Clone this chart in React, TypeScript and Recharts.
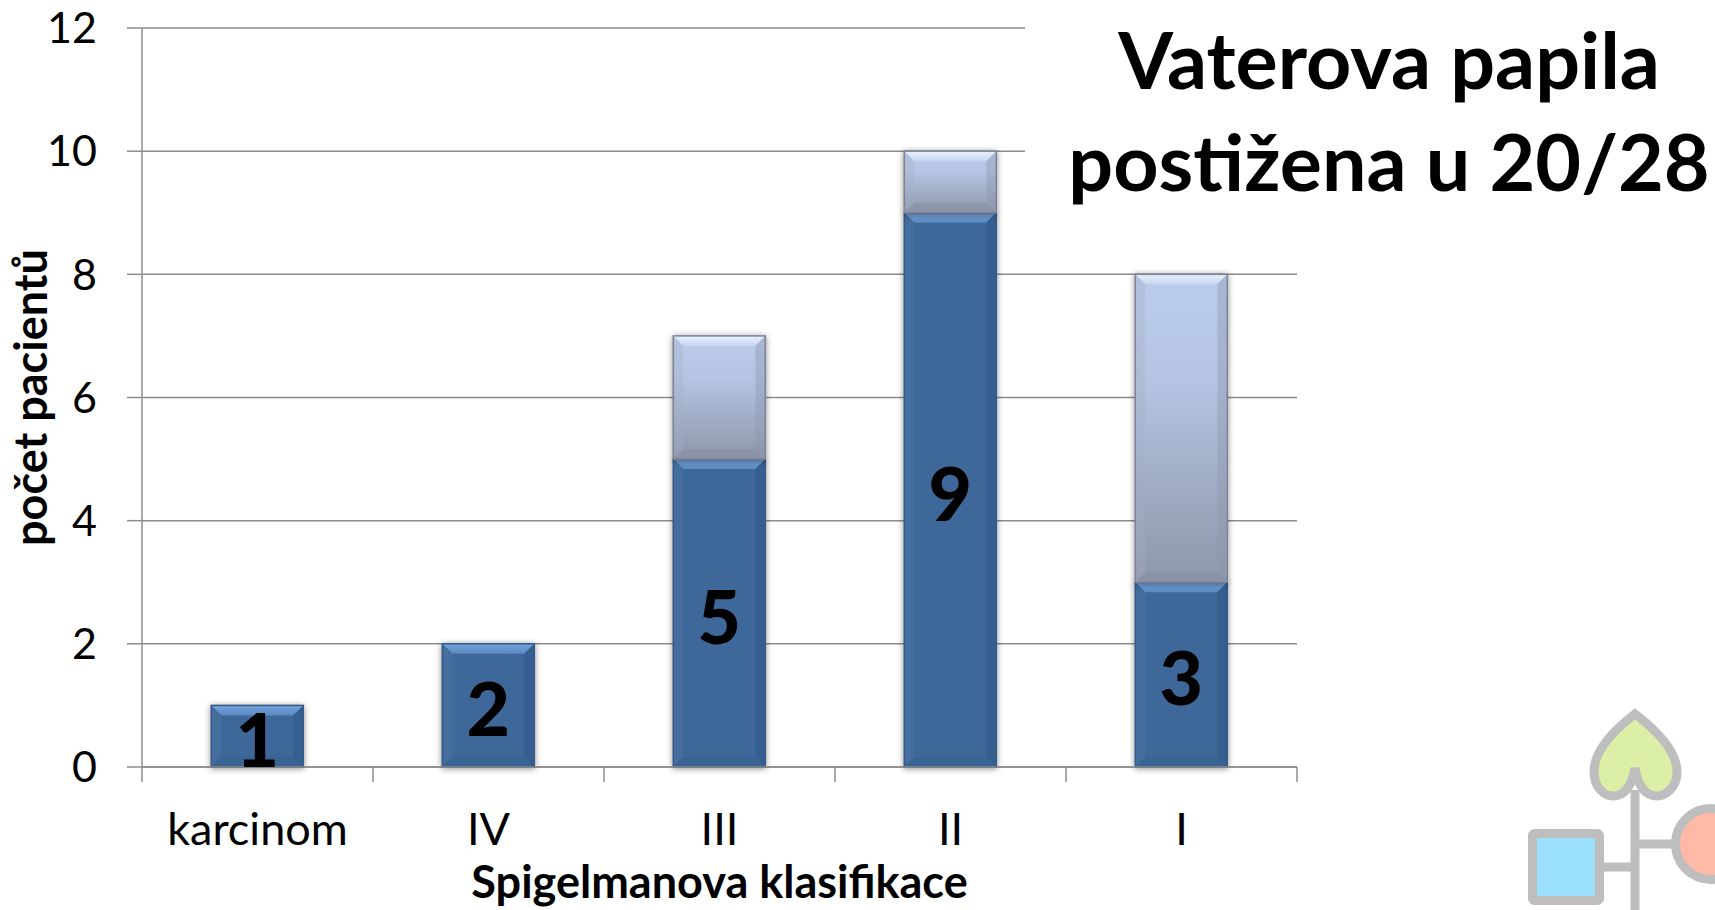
import React from 'react';
import { BarChart, Bar, XAxis, YAxis, CartesianGrid, LabelList } from 'recharts';

const categories = ['karcinom', 'IV', 'III', 'II', 'I'];
const affected = [1, 2, 5, 9, 3];
const others = [0, 0, 2, 1, 5];
const yTicks = [0, 2, 4, 6, 8, 10, 12];
const boundaryTicks = [0, 1, 2, 3, 4, 5];

const data = categories.map((name, i) => ({ name, edge: boundaryTicks[i], affected: affected[i], others: others[i] }));

const FONT = 'Lato, Carlito, sans-serif';
const AXIS = '#8c8c8c';

const BevelBar = (props: any) => {
    const { x, y, width, height, tone } = props;
    if (!height || height <= 0) return null;
    const b = Math.min(10, height / 2);
    const r = x + width;
    const t = y + height;
    const dark = tone === 'dark';
    return (
        <g style={{ filter: 'drop-shadow(0 1px 3px rgba(0,0,0,0.45))' }}>
            <rect x={x} y={y} width={width} height={height} fill={dark ? '#3d6899' : 'url(#lightBody)'} />
            <polygon points={`${x},${y} ${r},${y} ${r - b},${y + b} ${x + b},${y + b}`} fill={dark ? 'url(#darkTop)' : 'url(#lightTop)'} />
            <polygon points={`${x},${y} ${x + b},${y + b} ${x + b},${t - b} ${x},${t}`} fill={dark ? '#46709f' : '#a3aec6'} fillOpacity={dark ? 0.7 : 0.35} />
            <polygon points={`${r},${y} ${r - b},${y + b} ${r - b},${t - b} ${r},${t}`} fill={dark ? '#345c8c' : '#8d96ad'} fillOpacity={dark ? 0.8 : 0.4} />
            <polygon points={`${x},${t} ${x + b},${t - b} ${r - b},${t - b} ${r},${t}`} fill={dark ? '#386291' : '#868c9d'} fillOpacity={dark ? 0.8 : 0.45} />
            <rect x={x} y={y} width={width} height={height} fill="none" stroke={dark ? '#34598a' : '#7d8499'} strokeWidth={1.5} />
        </g>
    );
};

const Logo = () => (
    <svg width={1715} height={910} style={{ position: 'absolute', left: 0, top: 0 }}>
        <g stroke="#bebebe" strokeWidth={9} strokeLinejoin="round">
            <line x1={1635} y1={790} x2={1635} y2={910} />
            <line x1={1600} y1={867} x2={1635} y2={867} />
            <line x1={1635} y1={844} x2={1675} y2={844} />
            <path
                d="M1635 714 C1660 733 1677 752 1677 772 C1677 788 1665 796 1657 796 C1645 796 1638 785 1635 768 C1632 785 1625 796 1613 796 C1605 796 1594 788 1594 772 C1594 752 1610 733 1635 714 Z"
                fill="#dcefa6"
                strokeLinejoin="miter"
            />
            <rect x={1532.5} y={833.5} width={67} height={67} rx={2} fill="#9be0ff" />
            <circle cx={1711} cy={844} r={35.5} fill="#ffb9a6" />
        </g>
    </svg>
);

const App = () => {
    return (
        <div style={{ position: 'absolute', left: 0, top: 0, width: 1715, height: 910, background: '#fff', overflow: 'hidden', fontFamily: FONT }}>
            <BarChart
                width={1715}
                height={910}
                data={data}
                barCategoryGap="30%"
                margin={{ top: 28, right: 418, left: 0, bottom: 0 }}
            >
                <defs>
                    <linearGradient id="lightBody" x1="0" y1="0" x2="0" y2="1">
                        <stop offset="0" stopColor="#bccdec" />
                        <stop offset="0.35" stopColor="#b4c4e2" />
                        <stop offset="1" stopColor="#8e96aa" />
                    </linearGradient>
                    <linearGradient id="lightTop" x1="0" y1="0" x2="0" y2="1">
                        <stop offset="0" stopColor="#e9f0fc" />
                        <stop offset="1" stopColor="#c6d5ef" />
                    </linearGradient>
                    <linearGradient id="darkTop" x1="0" y1="0" x2="0" y2="1">
                        <stop offset="0" stopColor="#77a4dc" />
                        <stop offset="1" stopColor="#5a8ac2" />
                    </linearGradient>
                </defs>
                <CartesianGrid vertical={false} stroke={AXIS} strokeWidth={1.5} />
                <XAxis
                    xAxisId="bounds"
                    dataKey="edge"
                    type="number"
                    domain={[0, 5]}
                    allowDataOverflow
                    ticks={boundaryTicks}
                    interval={0}
                    height={1}
                    tickFormatter={() => ''}
                    tickSize={15}
                    axisLine={{ stroke: AXIS, strokeWidth: 1.5 }}
                    tickLine={{ stroke: AXIS, strokeWidth: 1.5 }}
                />
                <XAxis
                    xAxisId="cat"
                    dataKey="name"
                    height={142}
                    axisLine={false}
                    tickLine={false}
                    tickSize={0}
                    tickMargin={45}
                    tick={{ fontSize: 45, fill: '#000', fontFamily: FONT }}
                    label={{ value: 'Spigelmanova klasifikace', position: 'insideBottom', offset: 12, fontSize: 45, fontWeight: 700, fill: '#000', fontFamily: FONT }}
                />
                <YAxis
                    width={142}
                    domain={[0, 12]}
                    ticks={yTicks}
                    interval={0}
                    tickSize={15}
                    tickMargin={30}
                    axisLine={{ stroke: AXIS, strokeWidth: 1.5 }}
                    tickLine={{ stroke: AXIS, strokeWidth: 1.5 }}
                    tick={{ fontSize: 43, fill: '#000', fontFamily: FONT }}
                    label={{ value: 'počet pacientů', angle: -90, position: 'insideLeft', offset: 0, dx: 31, fontSize: 45, fontWeight: 700, fill: '#000', fontFamily: FONT, style: { textAnchor: 'middle' } }}
                />
                <Bar
                    xAxisId="cat"
                    dataKey="affected"
                    stackId="a"
                    isAnimationActive={false}
                    shape={(p: any) => <BevelBar {...p} tone="dark" />}
                >
                    <LabelList dataKey="affected" position="center" dy={4} fontSize={75} fontWeight={900} fill="#000" fontFamily={FONT} />
                </Bar>
                <Bar
                    xAxisId="cat"
                    dataKey="others"
                    stackId="a"
                    isAnimationActive={false}
                    shape={(p: any) => <BevelBar {...p} tone="light" />}
                />
            </BarChart>
            <div
                style={{
                    position: 'absolute',
                    left: 1025,
                    top: 0,
                    width: 690,
                    height: 230,
                    background: '#fff',
                }}
            />
            <div
                style={{
                    position: 'absolute',
                    left: 1044,
                    top: 8,
                    width: 690,
                    textAlign: 'center',
                    fontSize: 79,
                    lineHeight: '102px',
                    fontWeight: 700,
                    color: '#000',
                }}
            >
                Vaterova papila
                <br />
                postižena u 20/28
            </div>
            <Logo />
        </div>
    );
};

export default App;
